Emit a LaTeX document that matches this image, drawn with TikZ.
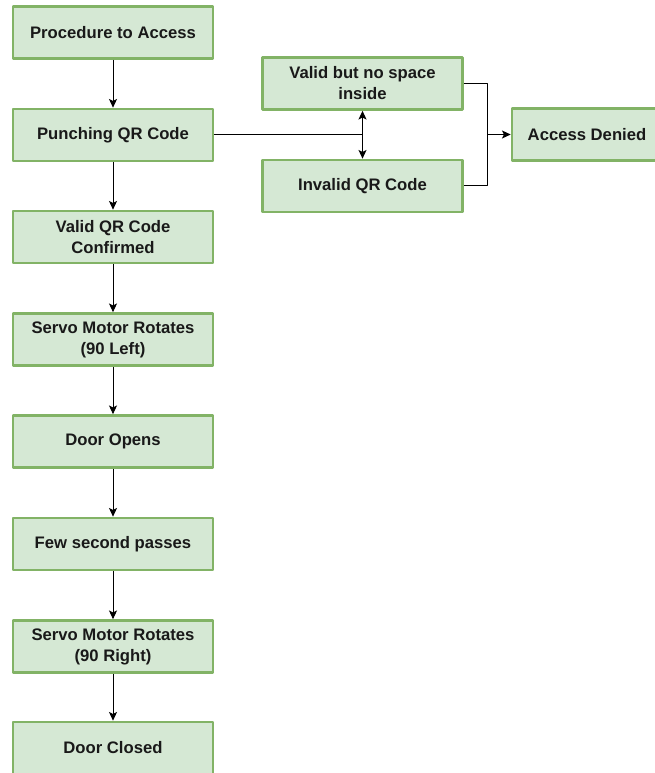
\documentclass[tikz,border=0pt]{standalone}
\usepackage{fontspec}
\setmainfont{Liberation Sans}
\usetikzlibrary{calc,arrows.meta}
\tikzset{>={Stealth[length=6.5pt,width=6pt,inset=1.5pt]}}
\definecolor{boxfill}{HTML}{D5E8D4}
\definecolor{boxline}{HTML}{82B366}
\tikzset{
    stepbox/.style={draw=boxline, fill=boxfill, line width=2pt, minimum width=150pt,
        minimum height=39pt, align=center, inner sep=2pt,
        font=\fontsize{12.5}{15.75}\selectfont\bfseries, text=black!90},
    link/.style={->, line width=0.75pt}
}

\begin{document}
\begin{tikzpicture}[x=0.75pt, y=-0.75pt, line join = round]
    \useasboundingbox (0,0) rectangle (654,773);
    \node[stepbox] (proc) at (113, 32.5) {Procedure to Access};
    \node[stepbox] (punch) at (113, 135) {Punching QR Code};
    \node[stepbox] (valid) at (113, 237) {Valid QR Code\\Confirmed};
    \node[stepbox] (left) at (113, 339.5) {Servo Motor Rotates\\(90 Left)};
    \node[stepbox] (opens) at (113, 441.5) {Door Opens};
    \node[stepbox] (passes) at (113, 544) {Few second passes};
    \node[stepbox] (right) at (113, 646.5) {Servo Motor Rotates\\(90 Right)};
    \node[stepbox] (closed) at (113, 748) {Door Closed};
    \node[stepbox] (nospace) at (362.5, 83.5) {Valid but no space\\inside};
    \node[stepbox] (invalid) at (362.5, 186) {Invalid QR Code};
    \node[stepbox, minimum width=112.5pt] (denied) at (587, 134.5) {Access Denied};

    \draw[link] (proc) -- (punch);
    \draw[link] (punch) -- (valid);
    \draw[link] (valid) -- (left);
    \draw[link] (left) -- (opens);
    \draw[link] (opens) -- (passes);
    \draw[link] (passes) -- (right);
    \draw[link] (right) -- (closed);

    \coordinate (split) at (nospace.south |- punch.east);
    \draw[line width=0.75pt] (punch.east) -- (split);
    \draw[link] (split) -- (nospace.south);
    \draw[link] (split) -- (invalid.north);

    \coordinate (merge) at ($(nospace.east)+(24,0)$);
    \draw[line width=0.75pt] (nospace.east) -- (merge) |- (invalid.east);
    \draw[link] (merge |- denied.west) -- (denied.west);
\end{tikzpicture}
\end{document}
